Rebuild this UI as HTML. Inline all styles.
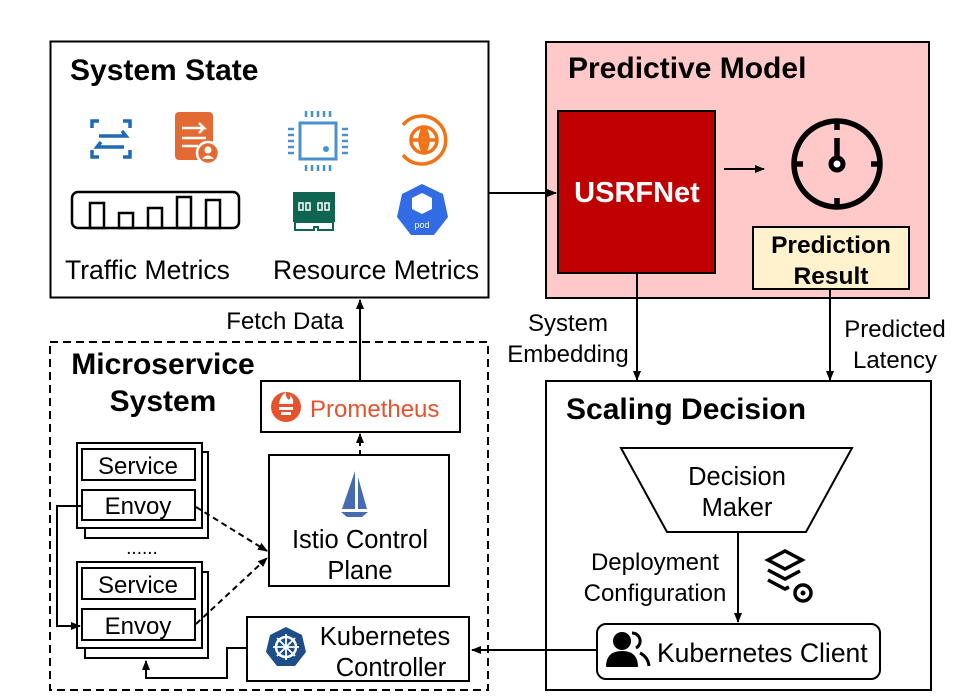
<!DOCTYPE html>
<html><head><meta charset="utf-8"><style>
html,body{margin:0;padding:0;background:#fff;}
svg{display:block;}
text{font-family:"Liberation Sans",Arial,sans-serif;}
.b{font-weight:bold;}
</style></head><body>
<svg width="956" height="699" viewBox="0 0 956 699" xmlns="http://www.w3.org/2000/svg">
<defs>
<marker id="ah" markerWidth="10" markerHeight="10" refX="9" refY="5" orient="auto" markerUnits="userSpaceOnUse">
<path d="M0,1 L10,5 L0,9 z" fill="#000"/></marker>
</defs>

<!-- System State -->
<rect x="50.5" y="41.5" width="438" height="256" fill="#fff" stroke="#000" stroke-width="2"/>
<text x="70" y="80" class="b" font-size="30">System State</text>
<g stroke="#1f6ab5" stroke-width="3.5" fill="none">
<path d="M92,128 v-7 h7 M123,121 h7 v7 M92,150 v7 h7 M123,157 h7 v-7"/>
<path d="M99,136 h27 l-4,-5 M101,142 l-4,5 h27"/>
</g>
<rect x="175" y="112" width="38" height="48" rx="4" fill="#e36a32"/>
<path d="M182,128 h22 l-5,-5 M204,128 l-5,5 M182,138 h24 M182,146 h16" stroke="#fff" stroke-width="2.5" fill="none"/>
<circle cx="208" cy="153" r="11" fill="#e36a32" stroke="#fff" stroke-width="2.5"/>
<circle cx="208" cy="150" r="3.5" fill="#fff"/><path d="M202,159 q6,-7 12,0" fill="#fff"/>
<rect x="72" y="192" width="167" height="36" rx="6" fill="none" stroke="#000" stroke-width="2.5"/>
<g fill="none" stroke="#000" stroke-width="2.5">
<rect x="90" y="203" width="14" height="25"/><rect x="119" y="213" width="14" height="15"/>
<rect x="148" y="208" width="14" height="20"/><rect x="177" y="197" width="14" height="31"/>
<rect x="206" y="200" width="14" height="28"/>
</g>
<rect x="300" y="123" width="36" height="36" fill="none" stroke="#4a90d0" stroke-width="3"/>
<circle cx="326" cy="149" r="3" fill="#4a90d0"/>
<g stroke="#4a90d0" stroke-width="2.5">
<path d="M306,111v6M312,111v6M318,111v6M324,111v6M330,111v6M306,165v6M312,165v6M318,165v6M324,165v6M330,165v6M288,129h6M288,135h6M288,141h6M288,147h6M288,153h6M342,129h6M342,135h6M342,141h6M342,147h6M342,153h6"/>
</g>
<g stroke="#f47216" stroke-width="3.5" fill="none">
<path d="M403,125 a24,24 0 1 1 0,30"/>
<circle cx="424" cy="140" r="13"/>
<path d="M411,140h26M424,127v26M424,127 q-8,13 0,26 M424,127 q8,13 0,26"/>
</g>
<rect x="293" y="192" width="42" height="30" fill="#0f6650"/>
<path d="M295,222 h38 v8 h-15 v-3 h-4 v3 h-19 z" fill="none" stroke="#0f6650" stroke-width="2"/>
<g fill="none" stroke="#fff" stroke-width="1.5"><rect x="299" y="203" width="4" height="7"/><rect x="306" y="203" width="4" height="7"/><rect x="318" y="203" width="4" height="7"/><rect x="325" y="203" width="4" height="7"/></g>
<path d="M422,184 l21,10 l5,23 l-14,18 h-23 l-14,-18 l5,-23 z" fill="#326ce5"/>
<path d="M412,198 l10,-5 l10,5 v11 l-10,5 l-10,-5 z" fill="#fff"/>
<text x="422" y="228" font-size="9" fill="#fff" text-anchor="middle">pod</text>
<text x="65" y="279" font-size="26.5">Traffic Metrics</text>
<text x="273" y="279" font-size="26.5">Resource Metrics</text>

<!-- Predictive Model -->
<rect x="546" y="42" width="383" height="256" fill="#ffc9c9" stroke="#000" stroke-width="2"/>
<text x="568" y="78" class="b" font-size="30">Predictive Model</text>
<rect x="558" y="111" width="157" height="162" fill="#c00000" stroke="#000" stroke-width="2"/>
<text x="637" y="202" class="b" font-size="29" fill="#fff" text-anchor="middle">USRFNet</text>
<line x1="724" y1="169" x2="764" y2="169" stroke="#000" stroke-width="2" marker-end="url(#ah)"/>
<circle cx="837" cy="164" r="43" fill="none" stroke="#000" stroke-width="5.5"/>
<path d="M837,122v8M837,198v9M795,164h8M871,164h9M837,138v22" stroke="#000" stroke-width="5.5"/>
<circle cx="837" cy="164" r="6" fill="#fff" stroke="#000" stroke-width="5"/>
<rect x="753" y="227" width="156" height="62" fill="#fff2cc" stroke="#000" stroke-width="2"/>
<text x="831" y="253" class="b" font-size="24.5" text-anchor="middle">Prediction</text>
<text x="831" y="284" class="b" font-size="24.5" text-anchor="middle">Result</text>

<line x1="489" y1="193" x2="556" y2="193" stroke="#000" stroke-width="2" marker-end="url(#ah)"/>
<line x1="637" y1="273" x2="637" y2="380" stroke="#000" stroke-width="2" marker-end="url(#ah)"/>
<line x1="830" y1="289" x2="830" y2="380" stroke="#000" stroke-width="2" marker-end="url(#ah)"/>
<text x="568" y="331" font-size="24" text-anchor="middle">System</text>
<text x="568" y="362" font-size="24" text-anchor="middle">Embedding</text>
<text x="895" y="337" font-size="24" text-anchor="middle">Predicted</text>
<text x="895" y="368" font-size="24" text-anchor="middle">Latency</text>

<!-- Scaling Decision -->
<rect x="546" y="381" width="385" height="309" fill="#fff" stroke="#000" stroke-width="2"/>
<text x="566" y="419" class="b" font-size="30">Scaling Decision</text>
<path d="M621,448 H852 L806,532 H667 Z" fill="#fff" stroke="#000" stroke-width="2"/>
<text x="737" y="485" font-size="25.5" text-anchor="middle">Decision</text>
<text x="737" y="516" font-size="25.5" text-anchor="middle">Maker</text>
<line x1="738" y1="532" x2="738" y2="622" stroke="#000" stroke-width="2" marker-end="url(#ah)"/>
<text x="655" y="570" font-size="24" text-anchor="middle">Deployment</text>
<text x="655" y="601" font-size="24" text-anchor="middle">Configuration</text>
<g fill="none" stroke="#000" stroke-width="3.5">
<path d="M768,560 l17,-9 l17,9 l-17,9 z"/><path d="M768,570 l17,9 l15,-8"/><path d="M768,580 l17,9 l4,-2"/>
<circle cx="803" cy="593" r="8"/>
</g>
<circle cx="803" cy="593" r="2.5" fill="#000"/>
<rect x="597" y="624" width="283" height="55" rx="9" fill="#fff" stroke="#000" stroke-width="2"/>
<circle cx="622" cy="641" r="9" fill="#000"/>
<path d="M606,667 q0,-16 16,-16 q16,0 16,16 z" fill="#000"/>
<path d="M632,633 a8,8 0 0 1 4,15 M640,653 q8,4 9,13" stroke="#000" stroke-width="3" fill="none"/>
<text x="657" y="662" font-size="26.5">Kubernetes Client</text>
<line x1="597" y1="650" x2="472" y2="650" stroke="#000" stroke-width="2" marker-end="url(#ah)"/>

<!-- Microservice System -->
<rect x="50" y="342" width="438" height="348" fill="none" stroke="#000" stroke-width="2" stroke-dasharray="8,5"/>
<text x="163" y="374" class="b" font-size="30" text-anchor="middle">Microservice</text>
<text x="163" y="411" class="b" font-size="30" text-anchor="middle">System</text>
<text x="285" y="329" font-size="24" text-anchor="middle">Fetch Data</text>
<line x1="360" y1="381" x2="360" y2="300" stroke="#000" stroke-width="2" marker-end="url(#ah)"/>
<rect x="261" y="381" width="199" height="51" fill="#fff" stroke="#000" stroke-width="2"/>
<circle cx="286" cy="407" r="15" fill="#e6522c"/>
<path d="M279,404 q1,-8 7,-12 q-1,5 3,8 q2,-3 1,-5 q4,4 3,9 z M279,407 h14 v3 h-14 z M281,412 h10 v3 h-10z" fill="#fff"/>
<text x="310" y="417" font-size="24" fill="#e6522c">Prometheus</text>
<line x1="360" y1="455" x2="360" y2="434" stroke="#000" stroke-width="2" stroke-dasharray="5,4" marker-end="url(#ah)"/>

<rect x="269" y="455" width="180" height="131" fill="#fff" stroke="#000" stroke-width="2"/>
<path d="M355,471 v38 h-13 z M358,477 v32 h9 z" fill="#466bb0"/>
<path d="M341,512 h27 l-6,5 h-15 z" fill="#466bb0"/>
<text x="360" y="548" font-size="25.5" text-anchor="middle">Istio Control</text>
<text x="360" y="579" font-size="25.5" text-anchor="middle">Plane</text>

<rect x="85" y="452" width="123" height="86" fill="#fff" stroke="#000" stroke-width="2"/>
<rect x="77" y="443" width="125" height="85" fill="#fff" stroke="#000" stroke-width="2"/>
<rect x="82" y="449" width="113" height="31" fill="#fff" stroke="#000" stroke-width="2"/>
<rect x="82" y="490" width="113" height="30" fill="#fff" stroke="#000" stroke-width="2"/>
<text x="138" y="474" font-size="24" text-anchor="middle">Service</text>
<text x="138" y="514" font-size="24" text-anchor="middle">Envoy</text>
<text x="142" y="554" font-size="19" text-anchor="middle">......</text>
<rect x="85" y="572" width="123" height="86" fill="#fff" stroke="#000" stroke-width="2"/>
<rect x="77" y="562" width="125" height="86" fill="#fff" stroke="#000" stroke-width="2"/>
<rect x="82" y="568" width="113" height="31" fill="#fff" stroke="#000" stroke-width="2"/>
<rect x="82" y="609" width="113" height="31" fill="#fff" stroke="#000" stroke-width="2"/>
<text x="138" y="593" font-size="24" text-anchor="middle">Service</text>
<text x="138" y="634" font-size="24" text-anchor="middle">Envoy</text>

<path d="M82,506 H57 V626 H80" fill="none" stroke="#000" stroke-width="2" marker-end="url(#ah)"/>
<line x1="196" y1="507" x2="267" y2="551" stroke="#000" stroke-width="2" stroke-dasharray="6,4" marker-end="url(#ah)"/>
<line x1="196" y1="624" x2="267" y2="558" stroke="#000" stroke-width="2" stroke-dasharray="6,4" marker-end="url(#ah)"/>

<rect x="247" y="617" width="222" height="64" fill="#fff" stroke="#000" stroke-width="2"/>
<path d="M286,627 l16,8 l4,17 l-11,14 h-18 l-11,-14 l4,-17 z" fill="#1d4e89"/>
<circle cx="286" cy="647" r="10" fill="none" stroke="#fff" stroke-width="2.5"/>
<path d="M286,634v26M273,647h26M277,638l18,18M295,638l-18,18" stroke="#fff" stroke-width="1.8"/>
<text x="385" y="645" font-size="25.5" text-anchor="middle">Kubernetes</text>
<text x="391" y="676" font-size="25.5" text-anchor="middle">Controller</text>
<path d="M247,648 H227 V678 H146 V661" fill="none" stroke="#000" stroke-width="2" marker-end="url(#ah)"/>
</svg>
</body></html>
